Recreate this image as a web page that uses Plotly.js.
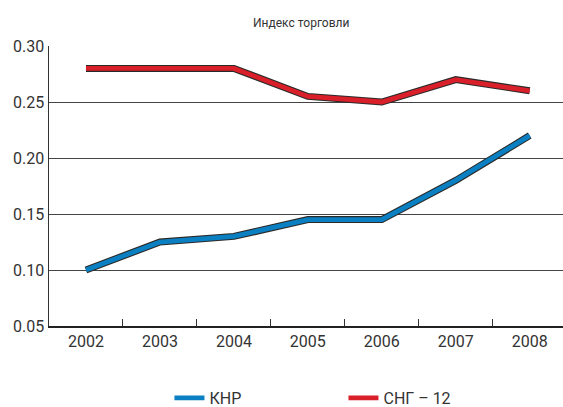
<!DOCTYPE html>
<html><head><meta charset="utf-8">
<script src="https://cdn.plot.ly/plotly-3.0.1.min.js"></script>
<style>html,body{margin:0;padding:0;background:#fff}#c{width:563px;height:407px}</style>
</head><body><div id="c"></div>
<script>
const years = ['2002','2003','2004','2005','2006','2007','2008'];
const chinaValues = [0.10, 0.125, 0.13, 0.145, 0.145, 0.18, 0.22];
const cisValues = [0.28, 0.28, 0.28, 0.255, 0.25, 0.27, 0.26];
const seriesNames = ['КНР', 'СНГ – 12'];
const titleText = 'Индекс торговли';

const outline = '#2a2a2a';
const traces = [
  {x: years, y: chinaValues, mode: 'lines', line: {color: outline, width: 7}, showlegend: false, hoverinfo: 'skip'},
  {x: years, y: chinaValues, mode: 'lines', name: seriesNames[0], line: {color: '#0a80c2', width: 4.8}},
  {x: years, y: cisValues, mode: 'lines', line: {color: outline, width: 7}, showlegend: false, hoverinfo: 'skip'},
  {x: years, y: cisValues, mode: 'lines', name: seriesNames[1], line: {color: '#d81f2a', width: 4.8}}
];
const layout = {
  width: 563, height: 407,
  margin: {l: 49, r: 0, t: 46, b: 81, autoexpand: false},
  paper_bgcolor: '#fff', plot_bgcolor: '#fff',
  font: {family: 'Roboto, sans-serif', color: '#333', size: 16},
  title: {text: titleText, font: {family: 'Roboto, sans-serif', size: 12, color: '#333'}, x: 0.535, xanchor: 'center', y: 0.945, yanchor: 'middle'},
  xaxis: {type: 'category', range: [-0.5, 6.45], showline: true, linecolor: '#222', linewidth: 1.5,
          ticks: 'inside', tickson: 'boundaries', ticklen: 7, tickcolor: '#333', showgrid: false,
          tickfont: {size: 16, color: '#333'}, fixedrange: true},
  yaxis: {range: [0.05, 0.30], dtick: 0.05, tick0: 0.05, tickformat: '.2f', showline: true, linecolor: '#333', linewidth: 1.5,
          showgrid: true, gridcolor: '#444', gridwidth: 1, zeroline: false, ticks: '', ticklen: 0,
          tickfont: {size: 16, color: '#333'}},
  showlegend: true,
  legend: {orientation: 'h', x: 0.301, xanchor: 'left', xref: 'container', y: 0.022, yref: 'container', yanchor: 'middle',
           font: {size: 16, color: '#333'}, entrywidth: 129, entrywidthmode: 'pixels', traceorder: 'normal'}
};
Plotly.newPlot('c', traces, layout, {displayModeBar: false, staticPlot: true});
</script></body></html>
